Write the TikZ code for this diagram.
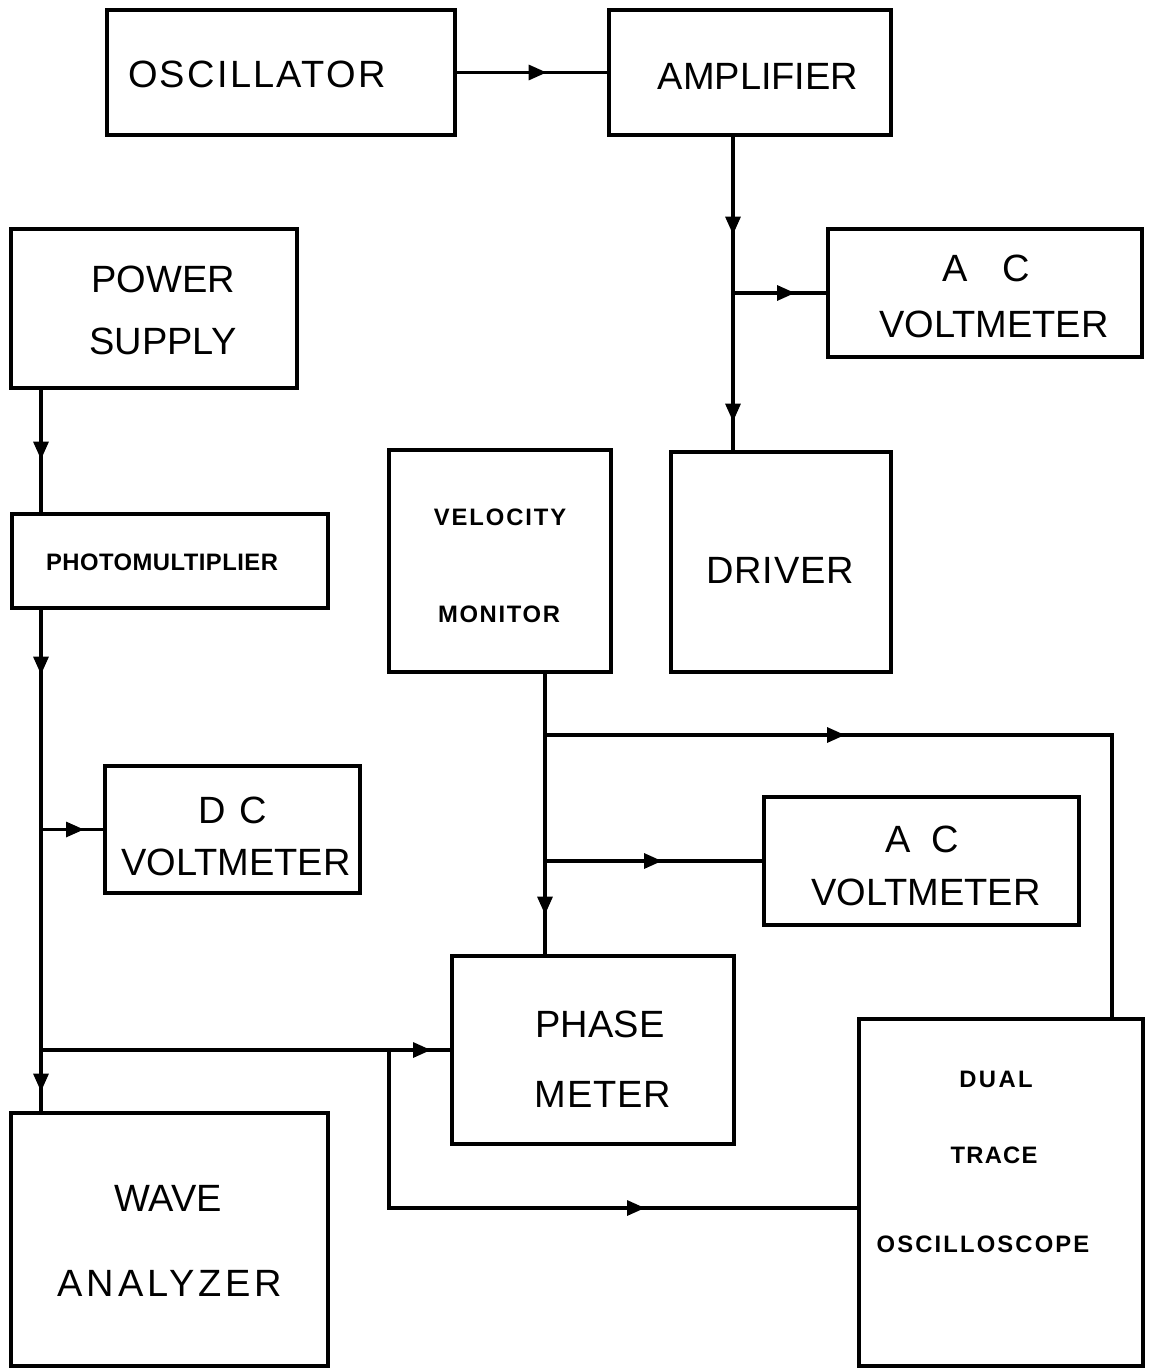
\documentclass[tikz,border=0pt]{standalone}
\usepackage{fontspec}
\setmainfont{Liberation Sans}
\usetikzlibrary{arrows.meta,decorations.markings}
\begin{document}
\begin{tikzpicture}[x=0.5pt,y=-0.5pt,
  blk/.style={draw,line width=1.6pt,inner sep=0pt},
  big/.style={font=\fontsize{19pt}{20pt}\selectfont,anchor=base,inner sep=0pt},
  small/.style={font=\fontsize{11.9pt}{13pt}\selectfont\bfseries,anchor=base,inner sep=0pt},
  wire/.style={line width=1.6pt},
  arrowat/.style={postaction={decorate,decoration={markings,
      mark=at position #1 with {\arrow{Triangle[length=9pt,width=7.5pt]}}}}}]
\fill[white] (0,0) rectangle (1152,1368);
\useasboundingbox (0,0) rectangle (1152,1368);
% boxes
\node[blk,minimum width=174pt,minimum height=62.5pt] (osc) at (281,72.5) {};
\node[blk,minimum width=141pt,minimum height=62.5pt] (amp) at (750,72.5) {};
\node[blk,minimum width=143pt,minimum height=79.5pt] (ps) at (154,308.5) {};
\node[blk,minimum width=157pt,minimum height=64pt] (ac1) at (985,293) {};
\node[blk,minimum width=158pt,minimum height=47pt] (pm) at (170,561) {};
\node[blk,minimum width=111pt,minimum height=111pt] (vm) at (500,561) {};
\node[blk,minimum width=110pt,minimum height=110pt] (drv) at (781,562) {};
\node[blk,minimum width=127.5pt,minimum height=63.5pt] (dc) at (232.5,829.5) {};
\node[blk,minimum width=157.5pt,minimum height=64pt] (ac2) at (921.5,861) {};
\node[blk,minimum width=141pt,minimum height=94pt] (ph) at (593,1050) {};
\node[blk,minimum width=142pt,minimum height=173.5pt] (osco) at (1001,1192.5) {};
\node[blk,minimum width=158.5pt,minimum height=126.5pt] (wa) at (169.5,1239.5) {};
% labels
\node[big] (osct) at (257,88) {\addfontfeature{LetterSpace=6}OSCILLATOR};
\node[big] (ampt) at (758,90) {AMPLIFIER};
\node[big] (pst1) at (163,293) {POWER};
\node[big] (pst2) at (163,355) {SUPPLY};
\node[big] (ac1t1) at (986,282) {A\hspace{0.9em}C};
\node[big] (ac1t2) at (994,338) {VOLTMETER};
\node[small] (pmt) at (162,570) {\addfontfeature{LetterSpace=2}PHOTOMULTIPLIER};
\node[small] (vmt1) at (500,525) {\addfontfeature{LetterSpace=8}VELOCITY};
\node[small] (vmt2) at (499,622) {\addfontfeature{LetterSpace=7}MONITOR};
\node[big] (drvt) at (780,583) {\addfontfeature{LetterSpace=2}DRIVER};
\node[big] (dct1) at (233,823) {D\hspace{0.35em}C};
\node[big] (dct2) at (236,875) {VOLTMETER};
\node[big] (ac2t1) at (922,852) {A\hspace{0.55em}C};
\node[big] (ac2t2) at (926,905) {VOLTMETER};
\node[big] (pht1) at (600,1037) {PHASE};
\node[big] (pht2) at (603,1107) {\addfontfeature{LetterSpace=2}METER};
\node[big] (wat1) at (168,1211) {WAVE};
\node[big] (wat2) at (170,1296) {\addfontfeature{LetterSpace=10}ANALYZER};
\node[small] (oscot1) at (996,1087) {\addfontfeature{LetterSpace=10}DUAL};
\node[small] (oscot2) at (994,1163) {\addfontfeature{LetterSpace=5}TRACE};
\node[small] (oscot3) at (983,1252) {\addfontfeature{LetterSpace=9}OSCILLOSCOPE};
% wire guides
\coordinate (xA) at (733,0);
\coordinate (xL) at (41,0);
\coordinate (xV) at (545,0);
\coordinate (xR) at (1112,0);
\coordinate (xB) at (389,0);
\coordinate (yT) at (0,735);
\coordinate (yB) at (0,1208);
% connectors
\draw[wire,arrowat=45pt] (osc.east) -- (amp.west);
\draw[wire,arrowat=49pt,arrowat=142.5pt] (amp.south -| xA) -- (drv.north -| xA);
\draw[wire,arrowat=31pt] (xA |- ac1.west) -- (ac1.west);
\draw[wire,arrowat=35pt] (ps.south -| xL) -- (pm.north -| xL);
\draw[wire,arrowat=32.5pt,arrowat=241pt] (pm.south -| xL) -- (wa.north -| xL);
\draw[wire,arrowat=21.5pt] (xL |- dc.west) -- (dc.west);
\draw[wire,arrowat=195pt] (xL |- ph.west) -- (ph.west);
\draw[wire,arrowat=207pt] (xB |- ph.west) -- (xB |- yB) -- (osco.west |- yB);
\draw[wire,arrowat=120.5pt] (vm.south -| xV) -- (ph.north -| xV);
\draw[wire,arrowat=150pt] (xV |- yT) -- (xR |- yT) -- (osco.north -| xR);
\draw[wire,arrowat=58.5pt] (xV |- ac2.west) -- (ac2.west);
\end{tikzpicture}
\end{document}
